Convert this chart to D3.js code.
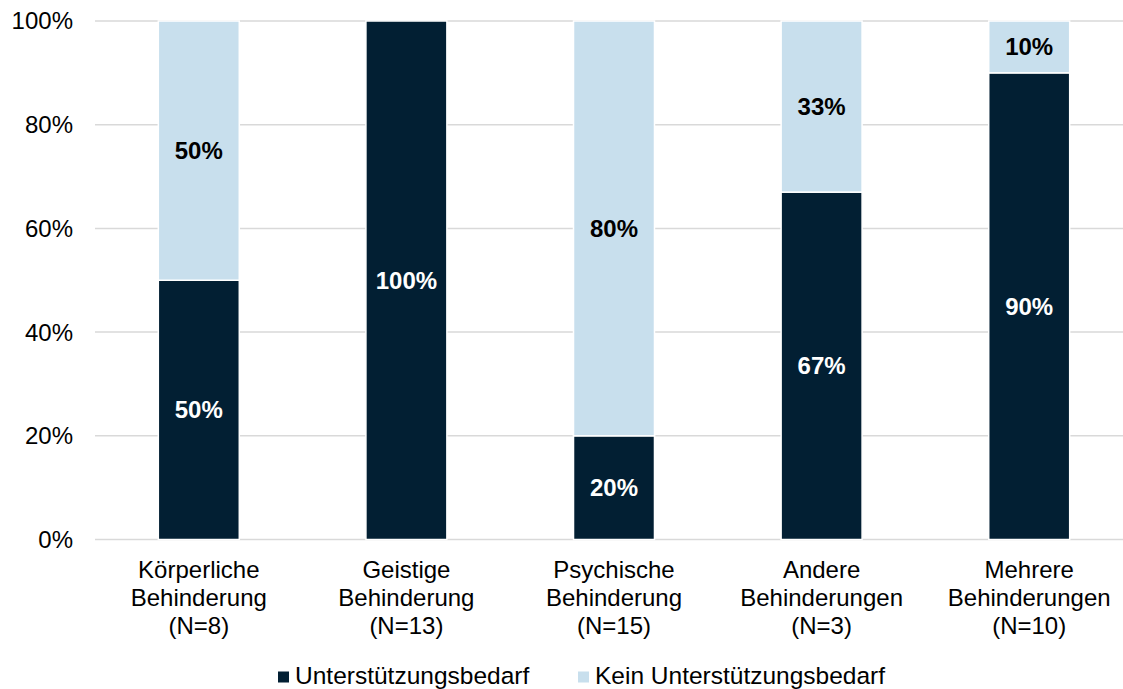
<!DOCTYPE html>
<meta charset="utf-8">
<script src="https://d3js.org/d3.v7.min.js"></script>
<style>
  body { margin: 0; background: #fff; }
  text { font-family: "Liberation Sans", Arial, sans-serif; }
</style>
<div id="chart"></div>
<script>

// data
var categories = [
  ["Körperliche", "Behinderung", "(N=8)"],
  ["Geistige", "Behinderung", "(N=13)"],
  ["Psychische", "Behinderung", "(N=15)"],
  ["Andere", "Behinderungen", "(N=3)"],
  ["Mehrere", "Behinderungen", "(N=10)"]
];
var bedarf = [50, 100, 20, 67, 90];
var keinBedarf = [50, 0, 80, 33, 10];
var seriesNames = ["Unterstützungsbedarf", "Kein Unterstützungsbedarf"];
var yTicks = [0, 20, 40, 60, 80, 100];

var width = 1123, height = 689;
var colors = ["#021f33", "#c8dfed"];

var svg = d3.select("#chart").append("svg")
  .attr("width", width)
  .attr("height", height);

var x = d3.scaleBand()
  .domain(d3.range(categories.length))
  .range([95, 1133])
  .paddingInner(0.61)
  .paddingOuter(0.305);

var y = d3.scaleLinear()
  .domain([0, 100])
  .range([539.5, 21]);

// gridlines
svg.selectAll(".grid")
  .data(yTicks)
  .enter().append("line")
  .attr("x1", 95)
  .attr("x2", width)
  .attr("y1", function(d) { return y(d); })
  .attr("y2", function(d) { return y(d); })
  .attr("stroke", "#d9d9d9")
  .attr("stroke-width", 1.5);

// y tick labels
svg.selectAll(".ytick")
  .data(yTicks)
  .enter().append("text")
  .attr("x", 73)
  .attr("y", function(d) { return y(d); })
  .attr("dy", "0.35em")
  .attr("text-anchor", "end")
  .attr("font-size", 24)
  .attr("fill", "#000")
  .text(function(d) { return d + "%"; });

// stacked segments
var stacked = categories.map(function(c, i) {
  return [
    { i: i, s: 0, y0: 0, y1: bedarf[i], v: bedarf[i] },
    { i: i, s: 1, y0: bedarf[i], y1: bedarf[i] + keinBedarf[i], v: keinBedarf[i] }
  ];
});
var segs = [].concat.apply([], stacked).filter(function(d) { return d.v > 0; });

svg.selectAll(".bar")
  .data(segs)
  .enter().append("rect")
  .attr("x", function(d) { return x(d.i); })
  .attr("width", x.bandwidth())
  .attr("y", function(d) { return y(d.y1); })
  .attr("height", function(d) { return y(d.y0) - y(d.y1); })
  .attr("fill", function(d) { return colors[d.s]; })
  .attr("stroke", "#fff")
  .attr("stroke-width", 1.5);

// value labels
svg.selectAll(".val")
  .data(segs)
  .enter().append("text")
  .attr("x", function(d) { return x(d.i) + x.bandwidth() / 2; })
  .attr("y", function(d) { return (y(d.y0) + y(d.y1)) / 2; })
  .attr("dy", "0.35em")
  .attr("text-anchor", "middle")
  .attr("font-size", 24)
  .attr("font-weight", "bold")
  .attr("fill", function(d) { return d.s === 0 ? "#fff" : "#000"; })
  .text(function(d) { return d.v + "%"; });

// category labels
var cat = svg.selectAll(".cat")
  .data(categories)
  .enter().append("text")
  .attr("text-anchor", "middle")
  .attr("font-size", 24)
  .attr("fill", "#000");
cat.selectAll("tspan")
  .data(function(d, i) { return d.map(function(t, j) { return { t: t, i: i, j: j }; }); })
  .enter().append("tspan")
  .attr("x", function(d) { return x(d.i) + x.bandwidth() / 2; })
  .attr("y", function(d) { return 578 + d.j * 28; })
  .text(function(d) { return d.t; });

// legend
var legendX = [278, 578];
var legend = svg.selectAll(".legend")
  .data(seriesNames)
  .enter().append("g")
  .attr("transform", function(d, i) { return "translate(" + legendX[i] + ",677)"; });
legend.append("rect")
  .attr("x", 0)
  .attr("y", -5.5)
  .attr("width", 11)
  .attr("height", 11)
  .attr("fill", function(d, i) { return colors[i]; });
legend.append("text")
  .attr("x", 17)
  .attr("y", 7)
  .attr("font-size", 24.5)
  .attr("fill", "#000")
  .text(function(d) { return d; });

</script>
